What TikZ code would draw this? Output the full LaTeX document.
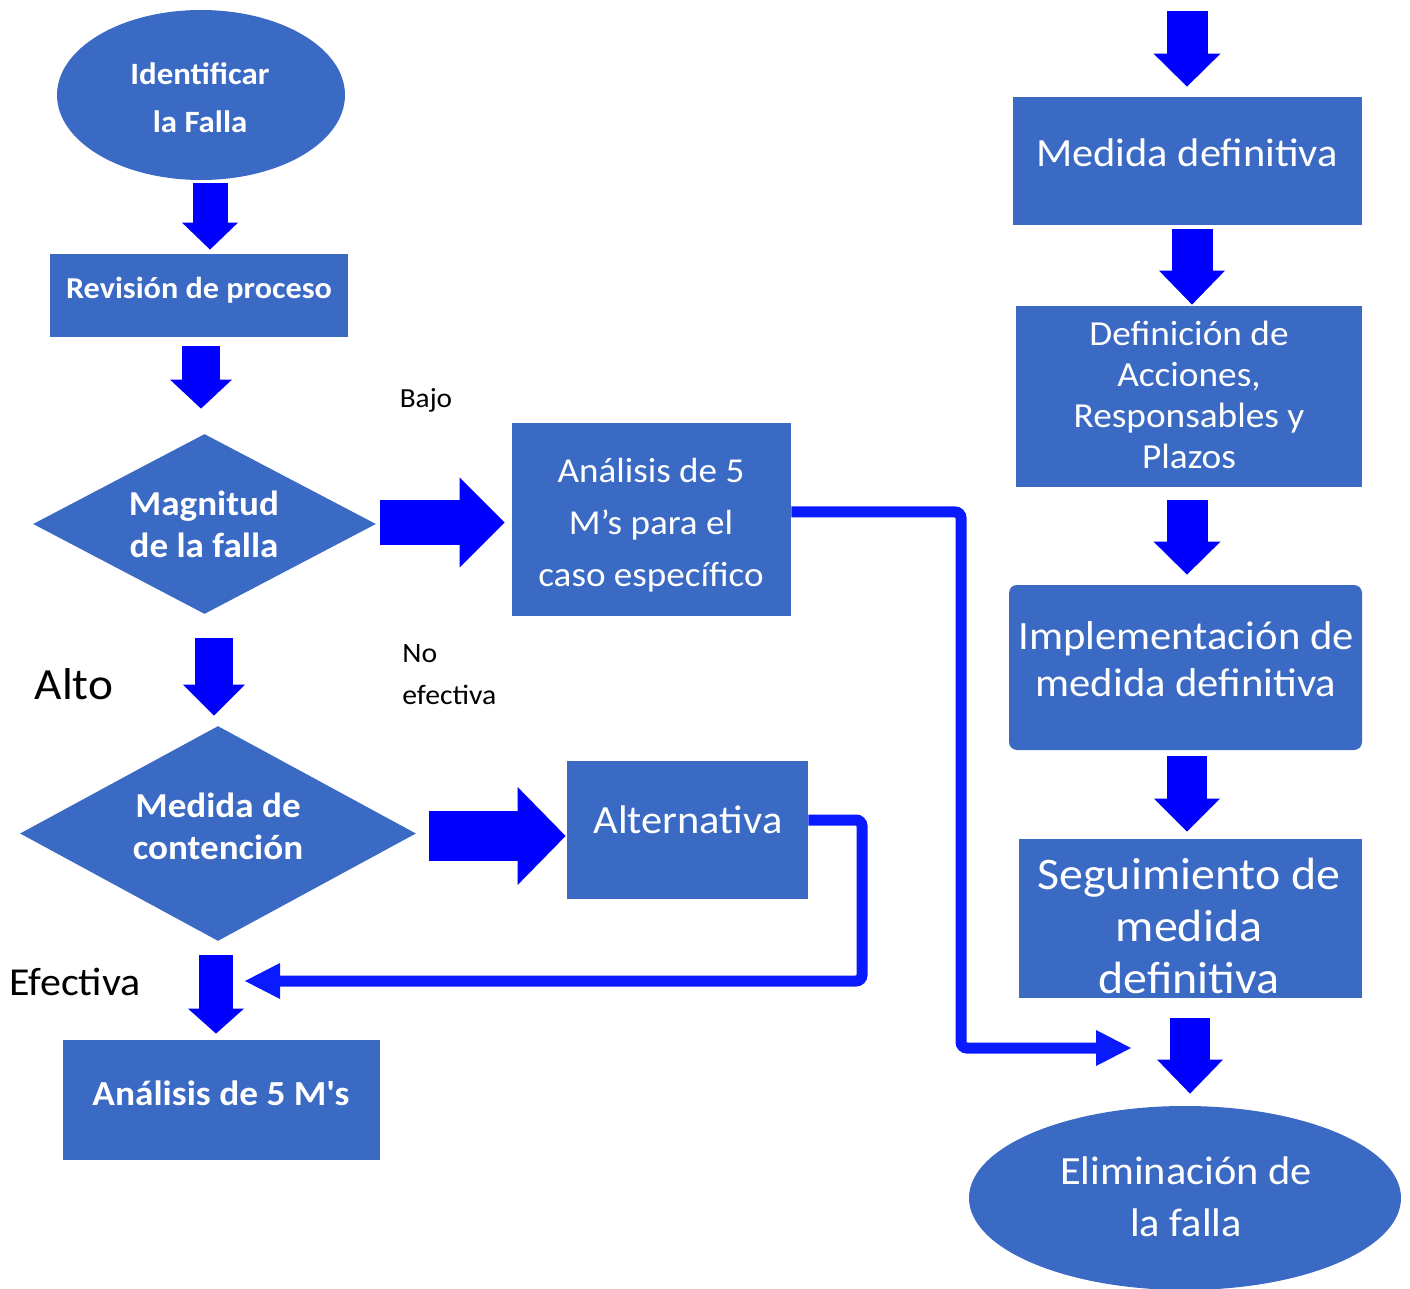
\documentclass[tikz,border=0pt]{standalone}
\usepackage{fontspec}
\setmainfont{Carlito}[FakeStretch=1.06]
\usetikzlibrary{shapes.geometric,arrows.meta,calc}
\definecolor{boxblue}{HTML}{3B6AC4}
\definecolor{arrowblue}{HTML}{0000FF}
\definecolor{lineblue}{HTML}{0A1AFF}

\begin{document}
\begin{tikzpicture}[x=0.5pt,y=-0.5pt,
  flowbox/.style 2 args={rectangle, fill=boxblue, draw=none, inner sep=0pt,
    minimum width=#1, minimum height=#2},
  terminal/.style 2 args={ellipse, fill=boxblue, draw=none, inner sep=0pt,
    minimum width=#1, minimum height=#2},
  decision/.style 2 args={diamond, fill=boxblue, draw=none, inner sep=0pt,
    minimum width=#1, minimum height=#2},
  wtxt/.style={text=white, align=center, inner sep=0pt},
  btxt/.style={text=black, inner sep=0pt},
  blk/.style n args={3}{draw=arrowblue, line width=#1,
    -{Triangle[width=#2, length=#3, line width=0pt]}},
  conn/.style={draw=lineblue, line width=5.5pt, rounded corners=3pt,
    -{Triangle[width=18pt, length=17.5pt, line width=0pt]}},
]
\useasboundingbox (0,0) rectangle (1410,1289);

% ---- left column shapes ----
\node[terminal={144pt}{85pt}] (idf) at (201,95) {};
\node[flowbox={149pt}{41.5pt}] (rev) at (199,295.5) {};
\node[decision={171.5pt}{90pt}] (mag) at (204.5,524) {};
\node[flowbox={139.5pt}{96.5pt}] (am5) at (651.5,519.5) {};
\node[decision={198pt}{107.5pt}] (med) at (218,833.5) {};
\node[flowbox={120.5pt}{69pt}] (alt) at (687.5,830) {};
\node[flowbox={158.5pt}{60pt}] (an5) at (221.5,1100) {};

% ---- right column shapes ----
\node[flowbox={174.5pt}{64pt}] (mdef) at (1187.5,161) {};
\node[flowbox={173pt}{90.5pt}] (dac) at (1189,396.5) {};
\node[flowbox={176.5pt}{82.5pt}, rounded corners=4pt] (imp) at (1185.5,667.5) {};
\node[flowbox={171.5pt}{79.5pt}] (seg) at (1190.5,918.5) {};
\node[terminal={216pt}{92pt}] (eli) at (1185,1198) {};

% ---- texts inside the shapes ----
\node[wtxt, font=\fontsize{15.5}{24}\selectfont\bfseries] (t-idf) at (200,98) {Identificar\\la Falla};
\node[wtxt, font=\fontsize{15.2}{18}\selectfont\bfseries] (t-rev) at (199,290) {Revisión de proceso};
\node[wtxt, font=\fontsize{17.5}{21}\selectfont\bfseries] (t-mag) at (204,524) {Magnitud\\de la falla};
\node[wtxt, font=\fontsize{17.5}{26}\selectfont] (t-am5) at (651,525.5) {Análisis de 5\\M’s para el\\caso específico};
\node[wtxt, font=\fontsize{17.5}{21}\selectfont\bfseries] (t-med) at (218,826) {Medida de\\contención};
\node[wtxt, font=\fontsize{20}{24}\selectfont] (t-alt) at (688,820) {Alternativa};
\node[wtxt, font=\fontsize{17.6}{20}\selectfont\bfseries] (t-an5) at (221,1093) {Análisis de 5 M\textquotesingle s};
\node[wtxt, font=\fontsize{20}{24}\selectfont] (t-mdef) at (1187,153) {Medida definitiva};
\node[wtxt, font=\fontsize{17.6}{20.5}\selectfont] (t-dac) at (1189,394.5) {Definición de\\Acciones,\\Responsables y\\Plazos};
\node[wtxt, font=\fontsize{20.1}{23.5}\selectfont] (t-imp) at (1186,659.5) {Implementación de\\medida definitiva};
\node[wtxt, font=\fontsize{22.6}{26}\selectfont] (t-seg) at (1189,925.5) {Seguimiento de\\medida\\definitiva};
\node[wtxt, font=\fontsize{20}{26}\selectfont] (t-eli) at (1186,1197) {Eliminación de\\la falla};

% ---- branch labels ----
\node[btxt, font=\fontsize{13.8}{16}\selectfont] (l-bajo) at (426,400) {Bajo};
\node[btxt, anchor=west, align=left, font=\fontsize{14}{21}\selectfont] (l-noef) at (402,675) {No\\efectiva};
\node[btxt, font=\fontsize{22.3}{26}\selectfont] (l-alto) at (74,684) {Alto};
\node[btxt, font=\fontsize{19.8}{24}\selectfont] (l-efec) at (75,982) {Efectiva};

% ---- block arrows ----
\draw[blk={17.5pt}{28pt}{13.5pt}] ($(idf.south)+(9,3)$) -- ($(rev.north)+(11,-4)$);
\draw[blk={19pt}{31pt}{14.5pt}] ($(rev.south)+(2,9)$) -- ($(mag.north)+(-3.5,-25)$);
\draw[blk={22.5pt}{45pt}{22.5pt}] ($(mag.east)+(4,-1.5)$) -- ($(am5.west)+(-7,3)$);
\draw[blk={19pt}{31pt}{15.5pt}] ($(mag.south)+(9.5,24)$) -- ($(med.north)+(-4,-10)$);
\draw[blk={25pt}{49pt}{24pt}] ($(med.east)+(13,2.5)$) -- ($(alt.west)+(-1,6)$);
\draw[blk={17pt}{28pt}{12.5pt}] ($(med.south)+(-2,14)$) -- ($(an5.north)+(-5.5,-6)$);

\coordinate (top) at (1187,11);
\draw[blk={20.5pt}{33.5pt}{16.5pt}] (top) -- ($(mdef.north)+(-0.5,-10)$);
\draw[blk={20.5pt}{33pt}{17pt}] ($(mdef.south)+(4.5,4)$) -- ($(dac.north)+(3,-1)$);
\draw[blk={20.5pt}{33.5pt}{16.5pt}] ($(dac.south)+(-2,13)$) -- ($(imp.north)+(1.5,-10)$);
\draw[blk={20pt}{33pt}{16.5pt}] ($(imp.south)+(1.5,6)$) -- ($(seg.north)+(-3.5,-7)$);
\draw[blk={20pt}{33pt}{17pt}] ($(seg.south)+(-0.5,20)$) -- ($(eli.north)+(5,-12)$);

% ---- feedback connectors ----
\coordinate (j1) at (961,1048);
\coordinate (e1) at (1131,1048);
\draw[conn] ($(am5.east)+(0,-7.5)$) -| (j1) -- (e1);

\coordinate (j2) at (862,981);
\coordinate (e2) at (245,981);
\draw[conn] ($(alt.east)+(0,-10)$) -| (j2) -- (e2);
\end{tikzpicture}
\end{document}
